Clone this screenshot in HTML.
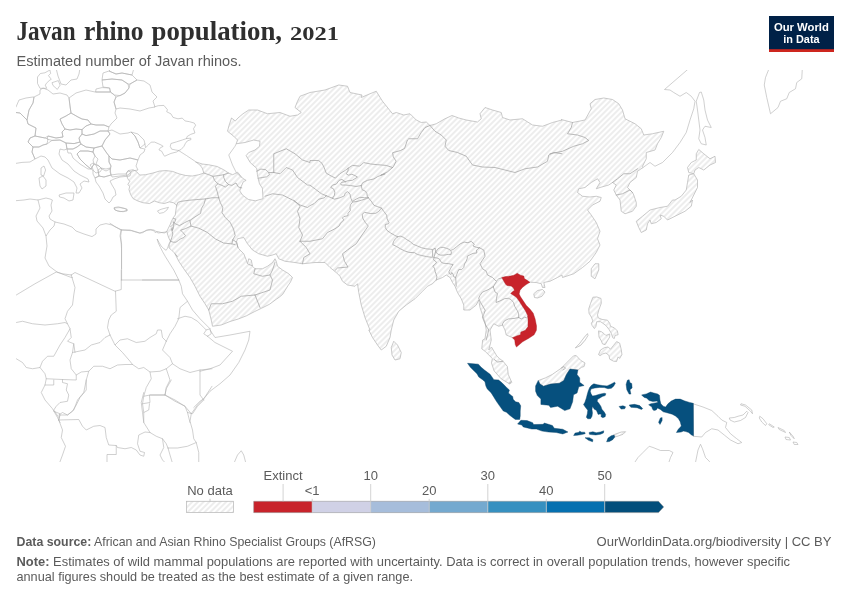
<!DOCTYPE html>
<html lang="en">
<head>
<meta charset="utf-8">
<title>Javan rhino population, 2021</title>
<style>
html,body{margin:0;padding:0;background:#fff;}
body{width:850px;height:600px;overflow:hidden;position:relative;font-family:"Liberation Sans",sans-serif;}
svg{position:absolute;left:0;top:0;display:block;}
.serif{font-family:"Liberation Serif",serif;}
.sans{font-family:"Liberation Sans",sans-serif;}
.o{fill:#fff;stroke:#b0b0b0;stroke-width:.6;stroke-linejoin:round;}
.h{fill:url(#hatch);stroke:#b4b4b4;stroke-width:.7;stroke-linejoin:round;}
.ol{fill:none;stroke:#b0b0b0;stroke-width:.6;stroke-linejoin:round;stroke-linecap:round;}
.l{fill:none;stroke:#a4a4a4;stroke-width:.75;stroke-linejoin:round;stroke-linecap:round;}
.r{fill:#c8232b;stroke:#a81c22;stroke-width:.4;stroke-linejoin:round;}
.b{fill:#06507e;stroke:#044066;stroke-width:.4;stroke-linejoin:round;}
.lg{font-size:13px;fill:#5b5b5b;}
.ft{font-size:13px;fill:#5b5b5b;}
</style>
</head>
<body>
<svg width="850" height="600" viewBox="0 0 850 600">
<defs>
<pattern id="hatch" patternUnits="userSpaceOnUse" width="4" height="4" patternTransform="rotate(-45 2 2)">
<path d="M-1,2 l6,0" stroke="#ccc" stroke-width=".7"/>
</pattern>
<clipPath id="mapclip"><rect x="16" y="70" width="818" height="392"/></clipPath>
</defs>
<rect width="850" height="600" fill="#fff"/>
<g clip-path="url(#mapclip)">
<path class="o" d="M157.44,210.94 L161.06,209.29 L166,207.98 L168.47,207.32 L166.82,210.12 L163.53,212.59 L159.41,213.41Z M114.12,207.65 L118.24,206.82 L124.82,208.47 L127.29,210.12 L123.18,211.76 L117.41,210.94 L114.61,209.62Z M693,403.75 L703,407 L711.75,410.5 L718,416.25 L721.75,420 L726.75,422.5 L725.5,427.5 L730.5,433.75 L736.75,438.75 L741.75,442.5 L738,443.75 L730.5,440 L724.25,435 L718,430 L711.75,428.75 L705.5,432.5 L701.75,437 L693,436.25Z M729.25,418 L734.25,417.5 L738,416.25 L743,415 L746.75,411.25 L748,412.5 L745.5,417.5 L740.5,420.5 L734.25,422 L730,420Z M741,403.75 L745.5,405 L751.75,410 L752.5,413.75 L750.5,411.25 L745,406.25 L740.5,405Z M759.75,416.25 L763,418.75 L766.75,423.75 L765.5,425.5 L761.75,422 L759.25,418Z M769.25,423.75 L774.25,427 L773,427.5 L768.75,424.75Z M778,427.5 L784.25,430.5 L785.5,432.5 L779.25,429.5Z M789.25,432 L793,436.25 L794.25,438.75 L791,435.5Z M785,437 L789.25,437.5 L790.5,440 L786,439.5Z M793,442 L796.75,442.5 L798,444.5 L794.25,444.5Z M699.5,92.5 L701.25,92 L703.75,100 L705,110 L707.5,120 L711.25,127.5 L705,126.25 L702.5,130 L705,137.5 L706.25,145 L701.25,143.75 L698.75,138.75 L700,130 L698.75,120 L697.5,110 L696.25,101.25Z M170.94,143.53 L176.59,141.84 L182.24,140 L186.47,138.59 L190.71,138.16 L190.99,139.58 L187.18,140.99 L185.34,143.53 L183.93,146.35 L181.11,149.46 L178.71,150.59 L175.18,149.88 L171.65,149.18 L170.24,146.35Z M40,88.3 L37.5,83.4 L37.5,77 L40.4,73.5 L44.9,72.8 L49.9,70 L50.6,73.5 L48.5,75.6 L50.6,78.5 L51.3,79.2 L49.2,80.6 L46.3,83.4 L45.3,85.2 L46.7,88.3Z M52,82.7 L58.3,80.6 L60.1,85.2 L57.3,89.4 L53,85.5Z M56,68 L58,76 L61,84 L66,85 L71,80 L77,79 L79,74 L80,68Z M69,98 L76,93 L86,90 L95,92 L102,92 L110.4,92 L114.4,95 L116,97 L114,102 L116,109 L115,113 L117,118 L111,124 L109,127 L104,125 L96,125 L91,124 L88,120 L82,119 L78,117 L71,113 L70,106Z M96,89 L102,87.6 L109.6,88 L110.4,92 L102,92 L95.6,92Z M102,80 L112,79 L122,80 L128,84 L129,88 L125,93 L120,95.6 L114.4,95 L110.4,92 L109.6,88 L103,87Z M102,80 L103,73 L109,71 L116,74 L122,73 L132,75 L137,80 L130,84 L128,84 L122,80 L112,79Z M109,71 L112,68 L134,68 L132,75 L122,73 L116,74Z M129,88 L130,84 L137,80 L144,81 L150,85 L152,92 L157,97 L153,101 L155,107 L149,108 L140,111 L130,109 L120,108 L116,109 L114,102 L116,97 L120,95.6 L125,93Z M60,119 L66,116 L71,113 L78,117 L82,119 L88,120 L91,124 L86,126 L82,129.6 L76,129 L70,130 L65,129 L62,124Z M82,129.6 L86,126 L91,124 L96,125 L104,125 L109,127 L108,131 L100,131 L94,134 L86,135.6 L82,134Z M48,136 L56,138 L63,137 L62,132 L65,129 L70,130 L76,129 L82,129.6 L82,134 L79,138 L80,142 L74,143.6 L66,143 L60,140 L52,140.4 L47,139Z M79,138 L82,134 L86,135.6 L94,134 L100,131 L108,131 L110,134 L105,140 L102,146 L94,148 L86,147 L81,144 L80,142Z M110,134 L108,131 L112,130 L120,134 L128,133 L131,132 L135,136 L138,142 L140,148 L145,149 L144,152 L140,155 L138,160 L130,158 L120,160 L112,159 L109,156 L106,152 L102,146 L105,140Z M131,132 L138,134 L144,140 L145,144 L140,148 L138,142 L135,136Z M109,156 L112,159 L120,160 L130,158 L138,160 L136,166 L138,170 L132,171 L128,175 L120,176 L112,177 L110,172 L111,166 L109,162Z M94,148 L102,146 L106,152 L109,156 L109,162 L111,166 L110,169 L106,171 L102,169 L99,166 L96,164 L98,159 L95,156 L93,152Z M30,138 L35,136 L40,137 L45,138 L48,139 L47,144 L43,145 L39,147 L33,147 L30,144 L28,142Z M40,90 L43,88 L48,90 L53,94 L60,93 L67,95 L69,98 L70,106 L71,113 L66,116 L60,119 L62,124 L65,129 L62,132 L63,137 L56,138 L48,136 L45,138 L40,137 L35,136 L36,128 L28,124 L27,120 L29,110 L33,103 L34,97 L40,94Z M27,120 L20,113 L12,112 L16,107 L19,100 L26,98 L33,97 L34,97 L33,103 L29,110Z M12,112 L20,113 L27,120 L28,124 L36,128 L35,136 L30,138 L28,142 L30,144 L33,147 L32,152 L35,159 L30,162 L22,162.4 L12,164Z M66,143 L74,143.6 L80,142 L81,144 L77,147 L73,149 L67,149Z M67,149 L73,149 L77,147 L81,144 L86,147 L94,148 L93,152 L88,151 L80,151 L77,154 L80,159 L86,165 L91,169 L88,169 L80,164 L73,158 L71,153 L68,153Z M77,154 L80,151 L88,151 L93,152 L95,156 L93,160 L94,164 L91,169 L86,165 L80,159Z M91,169 L94,164 L99,166 L102,169 L100,172 L96,173 L94,171Z M41,168 L44,166 L45.6,170 L43.6,176 L41,175Z M39,178 L43,176 L46,180 L46,186 L42,189 L40,186Z M33,147 L39,147 L43,145 L47,144 L52,140.4 L60,140 L66,143 L67,149 L64,150 L60,149 L59,154 L62,160 L68,164 L74,171 L80,175 L88,179 L89,182 L84,181 L80,184 L82,188 L79,193 L76,193 L77,188 L74,182 L68,178 L60,174 L52,168 L48,160 L45,157 L41,156 L35,159 L32,152Z M59,195 L66,193 L74,193 L73,200 L69,201 L64,198 L59.6,197Z M90,165 L93,163 L96,165 L98,170 L99,176 L95,178 L93,174 L93,169Z M99,176 L104,177 L111,175 L118,174 L126,174 L128,171 L131,172 L130,176 L120,177 L114,179 L110,181 L112,185 L115,190 L116,195 L113,197 L111,201 L109,203 L105,199 L103,193 L99,186 L96,182 L95,178Z M114,208 L120,207.6 L127,209 L127,211 L120,211.6 L115,210Z M98,170 L101,168 L106,169 L110,168 L111,175 L104,177 L99,176Z"/>
<path class="ol" d="M633,465 L638,457.5 L643,452.5 L649.25,446.25 L653,447.5 L660.5,450.5 L669.25,450.5 L673,452.5 L670.5,457.5 L668,465 M695,465 L698,450 L700.5,444.25 L702.5,448.75 L705.5,457.5 L709.25,461.25 L711.75,465 M770.5,65 L765.5,77.5 L764.25,85 L766.75,97.5 L770.5,113.75 L778,107.5 L780.5,101.25 L786.75,98.75 L789.25,92.5 L795.5,88.75 L796.75,82.5 L801.75,78.75 L802.5,65 M643,167.5 L650,162.5 L655,166.25 L662.5,162.5 L672.5,152.5 L680,142.5 L686.25,132.5 L690,120 L693.75,108.75 L695,101.25 L691.25,96.25 L686.25,92.5 L680,96.25 L673.75,92.5 L670,90 L664.5,89.5 L690,67.5 M241.25,177.5 L236.25,172.5 L232.5,165 L228.75,155 L235,146.25 L236.25,143.75 M210,330 L215,337.5 L230,335 L250,331.25 L248.75,340 L245,350 L238.75,362.5 L230,375 L220,383.75 L210,391.25 L203.75,398.75 L200,401.25 L193.75,407.5 M207.5,336.25 L215,342.5 L232.5,351.25 L220,365 L210,368.75 L200,371.25 M233.75,463.75 L237.5,455 L241.25,450.75 L243.75,455 L246,463.75 M121.53,229.88 L120.71,235.65 L121.53,248.82 L121.53,268.59 M142.5,280 L178.75,280 M177.5,318.75 L185,316.25 L191.25,317.5 L197.5,321.25 L203.75,327.5 L206.25,330 L210,328.75 M206.25,330 L203.75,333.75 L207.5,336.25 M170.49,241.26 L169.29,243.24 L168.24,246.06 L167.53,248.18 L166.12,250.29 L164,248.88 L161.18,246.06 L159.06,242.53 L157.29,239.35 M157.29,239.35 L158.35,243.24 L160.47,247.47 L162.59,251.71 L165.41,256.65 L167.5,260 L173.75,270 L178.75,280 L181.25,286.25 L182.5,293.75 L187.5,301.25 L192.5,310 L200,318.75 L206.25,325 L210,328.75 L211.25,333.75 L207.5,336.25 M110,223.29 L114.94,226.59 L121.53,229.88 L131.41,230.71 L139.65,233.18 L142.82,232.65 L146.35,230.18 L150.59,229.47 L153.41,230.53 L155.18,232.65 L156.94,231.38 L160.47,232.29 L164.35,233 L166.82,231.38 M154.71,106.82 L158.24,105.69 L163.88,105.41 L167.41,109.65 L166.71,111.76 L170.94,113.88 L173.06,117.41 L178,118.82 L182.24,118.12 L185.06,120.94 L189.29,121.65 L194.24,123.06 L195.65,125.18 L193.53,128.71 L194.94,132.94 L190.71,134.35 L187.18,136.47 L186.47,138.59 M178.71,150.59 L176.59,152 L170.94,153.41 L164.59,156.24 L163.18,154.12 L161.76,151.29 L158.94,149.88 L160.35,147.76 L163.18,146.35 L161.06,144.94 L154.71,142.12 L151.18,142.12 L148.35,144.94 L145.53,147.76 L144.96,143.95 M178.71,150.59 L186.47,155.53 L194.94,161.18 L195.65,161.88 M12,201 L24,200 L30,199 L38,200 L46,198 L50,199 L52.4,200 L51,205 L52,211 L49,216 L50,219 L55,222 L64,224 L72,227 L76,231 L84,234 L92,236.6 L96,234 L96,229 L100,225 L106,223.6 L112,225 L121,230 L130,230 L140,233 L148,230 L154,230 L158,233 L166,232 M38,200 L40,208 L36,216 L37,221 L43,228 L46,236 L50,230 L54,226 L55,222 M46,236 L47,246 L45,258 L49,266 L57,272 L70,277 L72.4,277.6 M121,230 L120,236 L121.6,244 L121.6,280 M10,298 L16.25,295 L35,283.75 L56.25,272 L62.5,273.75 L71.25,275 M71.25,275 L75,272.5 L115,291.25 L121.25,289.5 L121.25,270 M71.25,275 L75,287.5 L73.75,295 L72.5,305 L67.5,311.25 L65,318.75 L67.5,323.75 L70,328.75 L71.25,337.5 L67.5,341.25 L73.75,343.75 L75,352.5 M10,323 L16.25,322.5 L22.5,321.25 L32.5,323.75 L45,325 L57.5,323.75 L65,322.5 L67.5,323.75 M70,328.75 L65,337.5 L60,345 L53.75,356.25 L47.5,356.25 L42.5,361.25 L40,367.5 M10,357.5 L16.25,358.75 L22.5,362.5 L26.25,367.5 L32.5,368.75 L40,367.5 L45,373.75 L46.25,378.75 L45,385 L41.25,392.5 L45,400 L52.5,408.75 L57.5,417.5 L60,422.5 M73.75,343.75 L72.5,352.5 L70,360 L71.25,368.75 L76.25,375 L76.25,380 L62.5,379.5 L46.25,378.75 M72.5,352.5 L85,350 L91.25,345 L100,342.5 L105,337.5 L110,335 M110,335 L107.5,327.5 L108.75,320 L111.25,315 L116.25,311.25 L115.5,291.25 M121.25,280 L178.75,280 M187.5,301.25 L180,307.5 L178.75,318.75 L175,326.25 L170,333.75 L166.25,341.25 M110,335 L115,345 L120,340 L127.5,338.75 L136.25,342.5 L145,341.25 L150,337.5 L156.25,333.75 L157.5,330 L161.25,330 L162.5,337.5 L166.25,341.25 M166.25,341.25 L162.5,350 L170,357.5 L172.5,363.75 L180,368.75 L190,372.5 L200,370 L212,368.75 M115,345 L122.5,352.5 L130,361.25 L132.5,364.5 M76.25,375 L81.25,372 L88.75,371.25 L93.75,366.25 L102.5,366.25 L110,368.75 L117.5,365 L125,364.5 L132.5,364.5 L138.75,368.75 L143.75,367.5 L150,372 L160,371.25 L166.25,368.75 L172.5,363.75 M150,372 L151.25,378.75 L146.25,387.5 L143.75,396.25 L150,395 L165,395 L166.25,387.5 L170,380 L166.25,368.75 M200,370 L200,395 L203.75,400 M165,395 L175,400 L185,406.25 L187.5,412.5 L192.5,413.75 L197.5,406.25 L203.75,400 M143.75,396.25 L142.5,403.75 L143.75,412.5 L143.75,422.5 M149.5,395.5 L150,402.5 L142.5,403.75 M149.5,403.75 L148.75,410 L143.75,412.5 M187.5,412.5 L190,422.5 M88.75,371.25 L86.25,380 L83.75,392.5 L77.5,400 L73.75,410 L67.5,415 L60,415 L58.75,420 M53.75,380 L53.75,385 L45,385 M62.5,379.5 L62.5,382.5 L67.5,383.75 L66.25,390 L68.75,395 L67.5,401.25 L60,402.5 L56.25,406.25 L53.75,410 L58.75,417.5 M58.75,420 L62.5,430 L61.25,437.5 L65.5,446.25 L62.5,455 L58.75,465 M58.75,420 L78.75,419.5 L82.5,426.25 L86.25,430 L93.75,426.25 L100,425.5 L105,427.5 L106.25,437.5 L108.75,445 L116.25,445.5 L117.5,447.5 L125,448.75 L131.25,447.5 L136.25,450 L140,455 L143.75,456.25 L144.5,452.5 L140,451.25 L137.5,443.75 L138.75,435 L145,432 L150,432.5 L156.25,436.25 L162.5,438.75 L166.25,443.75 L168,448 M116.25,445.5 L116.25,454.5 L107,454.5 L107,465 M53.75,411.25 L60,413.75 L58.75,420 M58.75,415 L62.5,412.5 L67.5,415 L72.5,411.25 L76.25,405 L80,397.5 L86.25,390 L86.25,380 M143.75,392.5 L141.25,402.5 L142.5,412.5 L143.75,422.5 L150,432.5 M150,395 L165,395 L175,401.25 L185,406.25 L191.25,413.75 M212,386.25 L203.75,398.75 L197.5,405 L191.25,413.75 L190,421.25 L192.5,430 L193.75,438.75 L196.25,442.5 L198.75,452.5 L198.75,465 M196.25,442.5 L187.5,446.25 L177.5,448 L168,448 M162.5,438.75 L163.75,447.5 L160,455 L162.5,460 L167.5,465 M168,448 L170,455 L173,465 M171.25,380 L166.25,388.75 L165,395"/>
<path class="h" d="M126.47,174.71 L126.47,173.06 L128.12,170.59 L133.06,169.76 L136.35,171.41 L139.65,175.04 L145.41,174.71 L152.82,173.06 L159.41,171.08 L166,170.59 L172.59,171.41 L179.18,173.88 L185.76,175.53 L192.35,176.02 L198.94,174.71 L203.88,173.06 L202.24,168.12 L199.76,164.82 L195.65,161.86 L202.24,164 L208.82,164.82 L217.06,166.47 L223.65,169.76 L228.59,173.06 L232.71,174.71 L237.65,172.24 L242.59,178.24 L246.12,180.35 L243.29,181.76 L241.18,186.71 L239.76,190.94 L242.59,195.18 L248.24,199.41 L255.29,200.82 L263.06,198.71 L262.35,188.12 L259.53,183.88 L258.12,178.24 L257.41,174.71 L256.71,168.35 L250.35,162.71 L246.12,155.65 L248.75,152.5 L255,150 L259.5,146.25 L260,141.25 L253.75,140 L245,142.5 L236.25,143.75 L237.5,140 L233.75,136.25 L227.5,131.25 L229,125.5 L231.5,118 L235.25,121 L238,118 L243,113.75 L248.75,110 L257.5,110 L267.5,113.75 L280,112.5 L290,116.25 L297.5,115 L301.25,112.5 L295,107.5 L297.5,101.25 L300,96.25 L310,92.5 L325,90 L338.75,85 L347.5,86.25 L350,92.5 L362,95 L361.25,97.5 L370,93.75 L376.25,91.25 L382.5,101.25 L392.5,113.75 L396.25,112.5 L403.75,115 L410,113.75 L416.25,120 L421.25,122.5 L426.25,122 L430,125.5 L436.25,123.75 L445,118.75 L452,115.5 L458.75,118 L466.25,120 L477.5,122 L481.25,118.75 L480,113.75 L485,107.5 L492.5,110 L501.25,112.5 L502.5,117.5 L510,120 L522.5,118.75 L532.5,125 L542.5,126.25 L552.5,122.5 L562,120 L561.25,119.5 L572.5,122.5 L585,120 L591.25,108.75 L590,103.75 L595,99.5 L603.75,98 L612.5,99.5 L618.75,103.75 L622.5,110 L625,118.75 L635,123.75 L641.25,128.75 L643.75,135 L652.5,133.75 L663.75,131.25 L661.25,137.5 L657.5,143.75 L655,150 L646.25,152.5 L646.25,158.75 L642.5,166.25 L643,167.5 L637.5,171.25 L636.25,177.5 L630,182.5 L627.5,187.5 L632.5,192.5 L633.75,195 L636.25,202.5 L636.25,206.25 L632.5,211.25 L625,213.75 L621.25,211.25 L620,200 L616.25,195 L613.75,190 L616.25,185 L612.5,182.5 L608.75,185 L600,187.5 L596.25,188.75 L600,182.5 L597.5,178.75 L591.25,182.5 L585,187.5 L578.75,188.75 L577.5,192.5 L582.5,196.25 L590,197 L596.25,196.25 L601.25,197.5 L600,201.25 L592.5,205 L587.5,210 L587.5,210 L591.25,215 L596.25,222.5 L600,231.25 L597.5,238.75 L600,245 L596.25,252.5 L590,261.25 L582.5,267.5 L573.75,273.75 L562.5,277.5 L562,275 L557.5,277.5 L550,281.25 L543.75,282.5 L545,287.5 L542.5,287.5 L541.25,283.75 L536.25,282.5 L530.5,282.25 L525,282.5 L518,290.5 L516.75,293 L519.5,298 L524.5,305 L528.75,311.75 L531.25,317.5 L532.5,324.5 L531.25,330 L527.5,334.25 L523.75,337.5 L519.5,339.5 L515.5,339 L513,337.75 L506.25,335 L505,330 L502.5,325 L498.75,326.25 L493.75,323.75 L490,330 L491.25,340 L488.75,350 L491.47,347.06 L496.76,355.88 L499.41,358.53 L502.94,361.18 L507.35,366.47 L508.24,374.41 L511.76,382.35 L510,384.12 L501.18,378.82 L494.12,370.88 L491.47,362.94 L492.35,358.53 L485.29,351.47 L481.76,348.82 L482.65,340 L485,338.75 L486.25,330 L485,322.5 L482.5,315 L480,307.5 L478.75,300 L476.25,305 L470,310 L463.75,310 L463.75,305 L461.25,298.75 L457.5,292.5 L455,286.25 L452.5,282.5 L450,277.5 L446.25,275 L442.5,277.5 L436.25,280 L432.5,283.75 L427.5,286.25 L422.5,291.25 L415,298.75 L406.25,305 L398.75,311.25 L393.75,320 L391.25,330 L390,337.5 L386.25,346.25 L381.25,350 L377.5,345 L372.5,337.5 L368.75,330 L370,330 L365,317.5 L361.25,305 L358.75,292.5 L357.5,283.75 L355,286.25 L347.5,285 L342.5,281.25 L340,276.25 L336.25,272.5 L330,267.5 L325,262.5 L315,262.5 L302.5,263.75 L295,262.5 L285,261.25 L278.75,258.75 L276.25,253.75 L272.5,255 L267.5,256.25 L258.75,253.75 L252.5,250 L247.5,243.75 L243.75,237.5 L237.5,238.75 L236.25,242.5 L238.75,248.75 L243.75,253.75 L246.25,260 L247.5,263.75 L248.75,258.75 L251.25,260 L252.5,266.25 L255,268.75 L262.5,268.75 L267.5,266.25 L272.5,262.5 L275,258.75 L276.25,261.25 L277.5,266.25 L282.5,270 L288.75,273.75 L292.5,277.5 L290.5,282 L287.75,286 L285,290.5 L282.75,294.25 L279.5,297 L276.25,299.25 L269.5,304.25 L261.5,308.25 L254.75,311.5 L246.5,315.75 L238.25,319 L230,321.5 L221.25,325 L212.5,326.25 L211.25,320 L208.75,310 L205,303.75 L200,296.25 L195,286.25 L190,277.5 L183.75,268.75 L178.75,261.25 L175,253.75 L177.41,256.65 L173.88,252.41 L171.06,249.59 L168.94,247.82 L169.29,244.65 L170.49,241.26 L169.29,239 L167.88,235.47 L166.82,231.38 L168.24,228.41 L170,224.88 L171.41,221.35 L173.18,217.82 L175.29,215 L175.88,210.12 L176.71,205.18 L173.41,202.71 L169.29,201.88 L164.35,203.53 L159.41,202.71 L154.47,201.06 L149.53,203.53 L142.94,202.71 L138,201.06 L133.06,198.59 L130.59,194.47 L128.94,189.53 L129.76,186.24 L127.79,184.59 L129.76,181.29 L127.79,178.82Z M393.75,341.25 L397.5,345 L401.25,352.5 L400,358.75 L395,360 L392,355 L391.25,347.5Z M591.25,268.75 L595,263.75 L598.75,263.75 L598.75,270 L595,278.75 L591.25,276.25Z M533.75,293.75 L537.5,290.5 L542.5,289.5 L545,292 L542,296.25 L537.5,298 L534.5,297.5Z M698.75,149.5 L703.75,153.75 L710,158.75 L715,156.25 L715.5,162.5 L710,165 L703.75,170 L698.75,167.5 L695,170 L693.75,173.75 L688.75,172.5 L687.5,167.5 L691.25,162.5 L696.25,160 L696.25,153.75Z M688.75,175 L693.75,173.75 L697.5,180 L697.5,187.5 L693.75,195 L690,202.5 L692.5,200 L691.25,206.25 L685,211.25 L675,216.25 L667.5,220 L663.75,216.25 L660,215 L661.25,218.75 L656.25,222.5 L651.25,223.75 L650,220 L647.5,223.75 L646.25,230 L641.25,232.5 L638.75,227.5 L636.25,221.25 L642.5,216.25 L650,210 L660,207.5 L667.5,206.25 L672.5,200 L675,200 L681.25,196.25 L686.25,190 L687.5,182.5Z M592.88,297.24 L596.71,296.93 L600.99,298.46 L601.29,303.35 L599,309.47 L597.47,314.82 L598.24,317.88 L602.06,319.41 L607.41,320.18 L609.71,323.24 L610.47,326.29 L614.29,327.82 L617.35,330.88 L618.12,334.71 L615.06,335.47 L614.29,338.53 L612.76,337.76 L611.24,333.18 L608.94,329.35 L605.88,325.53 L602.82,323.24 L600.53,321.71 L596.71,321.71 L595.94,326.29 L594.41,328.59 L592.12,325.53 L591.35,323.24 L592.88,320.94 L591.35,317.12 L589.06,313.29 L588.75,308.71 L590.59,303.35Z M575.29,348.01 L579.88,343.12 L584.47,337 L587.53,333.64 L587.99,335.47 L585.24,340.06 L580.65,345.41Z M598.54,330.88 L601.29,331.65 L604.35,333.94 L605.88,335.47 L609.71,333.94 L609.71,337 L607.41,340.82 L605.12,344.65 L602.52,343.88 L601.29,340.82 L599,337Z M598.54,354.59 L600.53,350 L604.35,347.71 L608.18,346.94 L610.47,349.24 L613.53,345.41 L616.59,341.59 L619.65,343.12 L621.18,349.24 L621.94,354.59 L619.65,358.41 L618.12,356.88 L616.59,361.47 L613.53,361.16 L609.71,359.18 L608.94,355.35 L605.88,353.06 L602.82,353.82 L600.07,355.66Z M538.24,380.59 L540,384.12 L543.53,386.24 L550.59,384.12 L559.41,383.24 L563.82,380.59 L566.47,374.41 L570,369.12 L577.94,370 L581.47,367.35 L584.12,366.47 L585,362.94 L580.59,360.29 L576.18,355.53 L573.53,355.88 L566.47,362.94 L561.18,368.24 L552.35,374.41 L545.29,377.94Z M613.76,434.71 L621.18,432.06 L625.59,431.71 L622.94,434.35 L616.76,436.47 L613.24,437.35Z"/>
<path class="l" d="M203.88,173.06 L208.82,174.71 L212.94,176.35 L214.59,180.47 L217.88,183.76 L215.41,186.24 L217.06,191.18 L218.71,197.76 M218.71,197.76 L212.12,197.76 L205.53,198.92 L198.94,199.41 L189.06,200.24 L180.82,201.39 L177.86,202.38 L176.71,205.18 M212.94,176.35 L218.71,175.53 L223.65,174.71 L228.59,173.06 M223.65,174.71 L223.65,177.18 L225.29,181.29 L228.59,184.59 L225.29,187.06 L222,185.41 L217.88,183.76 M228.59,184.59 L231.88,185.41 L236,182.94 L238.47,187.06 L241.76,187.88 M218.71,197.76 L220.35,202.71 L222.82,207.65 L222,212.59 L225.29,217.53 L230.24,222.47 L233.53,229.06 L235.18,235.65 L232.71,239.76 L236.82,242.24 L237.65,247.18 M205.53,198.92 L203.88,204.35 L201.41,208.47 L200.59,213.41 L194,217.53 L189.88,220.49 M173.41,218.35 L175.88,219.18 L174.24,223.29 L171.76,225.76 L170.61,226.59 M191.04,226.09 L198.94,228.24 L207.18,232.35 L215.41,238.94 L223.65,243.06 L231.88,243.88 L235.18,244.71 M232.71,239.76 L231.88,243.88 M208.75,310 L211.25,303.75 L222.5,303.75 L232.5,301.25 L241.25,296.25 L255,295 M255,295 L260,307.5 M255,295 L270,290 L272.5,280 L270,275 M255,268.75 L253.75,273.75 L262.5,276.25 L270,275 L272.5,270 L275,262.5 M248.75,264.5 L252,265.5 M302.5,263.75 L303.75,257.5 L310,253.75 L306.25,247.5 L300,241.25 M300,241.25 L302.5,235 L298.75,227.5 L300,218.75 L297.5,211.25 L300,206.25 L293.75,200 M430,125.5 L435,131.25 L441.25,135 L446.25,140 L445,146.25 L448.75,150.5 L457.5,152.5 L466.25,156.25 L472.5,165 L482.5,167 L495,167.5 L505,170 L515,172.5 L525,168.75 L537.5,167 L547.5,161.25 L548.75,155 L553.75,152.5 L562,153.75 M572.5,122.5 L571.25,127.5 L567.5,133.75 L577.5,135 L585,137.5 L588.75,140.5 L582.5,143.75 L573.75,146.25 L562.5,151.25 L550,153.75 M637.5,168.75 L630,173.75 L623.75,173.75 L617.5,178.75 L612.5,182.5 M616.25,195 L622.5,193.75 L630,190 L632.5,192.5 M479.29,247.71 L483.75,250 L485,256.25 L480,263.75 L482.5,268.75 L486.25,271.25 L487.5,275 L492.5,277.5 L496.25,281.25 M496.25,281.25 L498.75,278.75 L502,278 M494.12,359.41 L497.65,362.06 L502.94,361.18 M509.12,383.24 L510.88,382 M561.18,368.24 L563.82,366.47 L565.59,368.24 L562.94,370 M170.49,241.26 L171.76,237.59 L172.82,234.06 L172.12,231.24 L173.18,227.71 L173.88,224.18 L173.53,222.06 M189.88,220.49 L191.04,226.09 L185.18,228.76 L180.59,230.18 L183.06,232.65 L185.53,235.61 L183.76,237.59 L180.94,238.65 L178.47,240.41 L176,242.18 L173.18,242.18 L170.49,241.26 M173.53,222.06 L175.29,223.82 L179.53,225.59 L184.47,222.76 L189.41,220.29 M172.12,227.71 L171.06,230.18 L172.47,230.18 L173.18,227.71 M256.71,171.18 L260.94,169.06 L265.88,169.76 L268.71,172.59 L269.41,174.71 L266.59,176.82 L262.35,177.53 L258.12,178.24 M268.71,172.59 L273.79,172.45 M433.06,249.47 L435.18,248.06 L435.53,251.94 L434.12,256.88 L432.71,257.59 M435.88,251.94 L437.65,249.12 L440.47,247.35 L443.29,247.35 L446.82,248.41 L449.65,249.47 L451.41,251.94 L451.06,254.41 L448.24,254.41 L444,255.12 L440.47,255.12 L437.65,254.06 L435.88,251.94 M451.41,250.18 L453.18,249.47 L456.71,246.65 L460.24,243.82 L464.12,242.06 L468,242.76 L471.18,241.35 L474.35,244.18 L472.94,245.94 L476.47,247.35 L479.29,247.71 M479.29,247.71 L477.88,249.12 L476.47,250.18 L476.82,253 L472.94,253.35 L469.41,255.12 L467.29,256.18 L467.29,258.29 L466.24,261.12 L464.47,263.94 L463.76,267.47 L461.65,269.59 L458.82,269.59 L457.76,271.71 L456.71,274.53 L455.65,277.35 M434.12,257.59 L436.94,257.94 L439.41,259 L441.18,262.18 L443.29,263.24 L448.24,263.59 L453.18,264.65 L451.76,266.41 L450.35,268.88 L448.94,271.71 L449.29,273.47 L451.06,274.53 L451.76,272.41 L453.18,274.53 L453.88,277 L455.65,277.35 L456.25,286.25 M434.12,257.59 L433.41,259.71 L436.59,262.18 L435.18,264.29 L432.71,266.06 L434.47,268.18 L435.18,271.71 L436.24,274.53 L436.94,277 L436.25,280 M397.65,236.82 L400.12,236.12 L403.29,237.18 L406.82,239.65 L410.35,241.76 L413.18,244.24 L417.41,246 L421.65,247.76 L425.88,248.82 L430.12,249.18 L432.59,249.53 L432.59,256.59 L431.53,257.29 L426.59,256.59 L421.65,255.53 L417.41,254.47 L414.59,252.71 L408.94,252.35 L404.71,250.94 L400.47,248.82 L396.24,246.35 L392.71,244.59 L393.41,241.76 L395.18,238.94 L397.65,236.82 M381.47,208.12 L383.82,211.41 L386.65,215.18 L387.12,218.94 L389,222.71 L388.47,223.76 L385.29,224.47 L385.29,227.65 L387.06,230.47 L390.59,232.94 L394.82,235.41 L397.65,236.82 M496.06,282.24 L493.24,286.75 M493.24,286.75 L488.06,289.76 L482.41,292.12 L480.06,295.41 L478.65,298.24 L480.53,302.47 L483.35,307.18 L485.24,310.47 L483.82,314.24 L482.41,317.06 L483.82,320.82 L486.18,326 L488.75,330 L486.25,340 M493.24,286.75 L495.12,292.12 L497.47,293.53 L496.53,298.24 L496.06,302.47 L499.82,301.06 L504.53,298.71 L508.29,298.24 L511.12,299.65 L513.47,302.47 L514.88,306.71 L517.24,310.47 L518.65,313.76 L518.65,317.53 M518.65,317.53 L521.47,318.94 L524.76,317.06 L526.18,318 L527.87,316.59 M518.65,317.53 L513.94,318.47 L508.29,318.94 L504.53,320.82 L502.65,323.65 L502.46,324.96 M273.75,172.5 L273.75,153.75 L286.25,148.75 L295,153.75 L302.5,160 L310,162.5 L310,160.47 L318.47,160.47 L322,163.29 L324.12,167.53 L326.24,173.18 L331.18,176 L335.41,178.12 L339.65,173.88 L345.29,170.35 L348.12,168.24 M348.12,168.24 L352.35,165.41 L359.41,166.12 L361.53,164.71 L363.65,162.59 L370.71,164 L377.76,164.71 L386.24,165.41 L392.59,167.53 M430,125.5 L425,127.5 L421.25,132.5 L417.5,138.75 L408.75,138.75 L407.41,140 L404.59,148.47 L400.35,150.59 L392.59,152.71 L393.29,156.94 L396.12,161.18 L393.29,166.82 L392.59,167.53 M392.59,167.53 L387.65,171.76 L380.59,175.29 L385.24,173.76 L377.71,176.59 L373.94,178.94 L367.35,180.35 L362.65,182.71 L361.24,185.53 M361.24,185.53 L356.06,186.47 L350.41,185.53 L345.71,185.06 L341.47,185.06 L340.53,183.65 L341.94,182.24 L345.24,181.76 M345.24,181.76 L347.59,180.82 L352.29,180.35 L356.06,178 L357.47,177.06 L355.12,175.65 L351.82,174.24 L348.53,175.18 L346.18,173.76 L348.06,170.94 L348.12,168.24 M345.24,181.76 L341.94,179.41 L339.12,180.35 L336.29,184.12 L332.53,185.06 L330.65,187.41 L333.47,188.82 L334.88,192.12 L334.41,195.41 L332.53,198.24 M361.24,185.53 L362.18,189.76 L365.47,191.18 L366.88,193.53 L367.35,196.35 L368.29,197.76 M368.29,197.76 L364.53,197.76 L359.82,197.29 L356.06,199.18 L352.29,201.53 L350.88,198.24 L349.94,194 L347.59,191.65 L345.24,193.06 L344.29,195.88 L340.06,197.76 L334.41,199.18 L332.53,198.24 M332.53,198.24 L326.24,195.76 M273.75,172.5 L280,173.75 L286.25,167.5 L292.5,170 L297.5,177.5 L307.5,185 L310,185.18 L315.65,189.41 L321.29,193.65 L326.24,195.76 M265,196.25 L272.5,193.75 L282.5,195 L292.5,200 L300,205 L307.5,207.5 L310,205.65 L314.24,203.53 L318.47,199.29 L324.12,197.88 L326.24,195.76 M300,241.25 L310,241.25 L322.5,238.75 L327.5,232.5 L335,228.75 L339.12,226 L340.53,223.18 L343.82,219.88 L342.41,218 L343.82,216.59 L348.06,215.65 L348.06,213.29 L350.41,210.47 L349.94,207.65 L350.41,204.82 L352.76,202 L357,201.53 L361.71,200.12 L366.41,198.71 L368.29,197.76 M368.29,197.76 L371.12,201.06 L373.94,205.29 L377.71,206.71 L381.47,208.12 M381.47,208.12 L378.65,211.41 L375.82,213.29 L370.18,213.48 L364.53,212.35 L362.18,214.24 L362.65,218 L365.47,222.71 L368.29,226 L362,235 L356.25,243.75 L347.5,250 L342.5,253.75 L344.5,261.25 L348,267 L337.5,268 L335,270.5"/>
<path class="r" d="M501.71,277.53 L505.47,276.59 L510.18,276.12 L513.94,275.18 L517.24,273.29 L520.53,275.18 L523.82,276.12 L524.29,278.47 L527.12,280.35 L529.94,282.24 L526.18,284.59 L522.41,287.41 L520.06,290.24 L519.12,294 L520.53,296.82 L523.35,301.06 L526.18,305.29 L529.94,309.06 L533.24,313.29 L535.12,318.94 L536.53,326 L536.41,330.29 L534.12,334.71 L528.82,338.24 L522.65,341.76 L516.47,347.06 L515.24,344.41 L514.71,340 L512.41,337.71 L516.47,335.94 L520.35,334.71 L520.88,332.06 L525.29,330.29 L527.94,326.76 L528.06,319.88 L527.59,315.18 L525.24,310.47 L522.41,306.24 L519.12,301.06 L516.29,297.29 L513,294.94 L510.65,293.53 L512.06,292.12 L514.41,290.24 L513.47,287.88 L511.12,286 L506.88,285.53 L505.47,284.12 L503.59,280.82Z"/>
<path class="b" d="M467.53,363.28 L478.35,364.13 L481.18,367.24 L484.47,370.06 L490.12,374.29 L493.88,379.66 L498.59,379.94 L501.41,382.29 L504.24,385.12 L507.06,387.94 L509.41,390.01 L508.47,393.12 L511.29,395.47 L512.71,396.41 L513.18,399.24 L515.53,401.78 L518.82,402.53 L520.71,405.82 L520.24,411 L520.24,415.88 L519.71,419.41 L515.29,419.41 L510,415.53 L506.47,412.35 L503.29,411 L499.53,405.82 L496.24,401.12 L493.41,396.41 L491.06,392.65 L487.29,389.07 L485.88,386.06 L484.94,381.82 L482.59,379.66 L478.82,377.12 L476.94,373.64 L474.12,371 L470.35,367.24Z M517.59,424.06 L520.88,420.29 L527,420.58 L532.65,422.65 L533.59,424.53 L543,424.34 L544.41,423.12 L552.41,425.47 L554.29,428.29 L562.76,429.24 L567.94,432.06 L562.76,433.94 L556.18,432.53 L548.65,432.06 L542.06,431.12 L536.41,429.05 L531.71,429.05 L523.24,426.88 L521.82,425Z M538.24,380.59 L535.59,385.88 L535.59,391.18 L537.35,395.59 L540.88,399.12 L540.88,404.41 L548.82,405.29 L550.59,407.59 L557.65,406.18 L564.71,410.59 L570,408.82 L572.65,401.76 L573.53,394.71 L577.06,392.94 L578.82,386.76 L584.12,385.53 L579.71,382.35 L579.71,377.94 L577.06,374.41 L577.94,370 L570,369.12 L566.47,374.41 L563.82,380.59 L559.41,383.24 L550.59,384.12 L543.53,386.24 L540,384.12Z M589.65,387.59 L591.53,385.24 L593.88,383.82 L597.65,384.76 L602.35,385.52 L607.06,385.89 L610.82,384.29 L614.59,382.13 L615.34,383.35 L613.65,386.18 L611.29,388.34 L608,388.72 L604.24,387.59 L599.53,387.4 L594.82,388.06 L591.06,389 L590.31,391.35 L591.06,393.71 L592.47,396.06 L595.29,395.59 L599.53,394.18 L604.24,393.24 L605.93,393.71 L605.18,395.59 L602.35,396.53 L600,397.94 L597.65,399.35 L597.18,401.24 L599.06,403.59 L600.94,406.41 L601.88,409.24 L604.24,412.06 L605.65,414.41 L605.18,416.76 L602.82,417.71 L600.94,416.58 L601.41,414.41 L600,413.94 L598.12,414.41 L597.18,412.06 L596.24,410.18 L594.35,409.24 L592.47,406.41 L592,409.24 L592.47,413 L592,416.29 L590.59,418.65 L587.76,418.84 L586.35,417.24 L587.29,413.94 L587.76,410.18 L585.41,407.35 L583.53,404.53 L584.94,402.18 L586.35,397.94 L587.29,394.18 L588.24,390.88Z M627.35,380.35 L629.12,379.65 L630,382.65 L631.76,383.53 L632.12,387.94 L630,389.71 L630.88,394.12 L629.12,394.12 L626.82,389.71 L626.12,384.41Z M619.06,406.47 L622.94,405.76 L625.59,406.82 L624.71,408.76 L621.18,409.12Z M629.12,405.06 L634.41,404.35 L639.71,405.59 L642.71,408.59 L641.47,409.47 L637.06,407.71 L630.88,407.35Z M641.59,394.88 L646.29,393.94 L650.53,392.06 L653.82,393 L657.59,393.94 L659.47,395.35 L659.94,400.06 L660.88,403.82 L663.24,406.18 L665.59,407.12 L667.94,403.82 L671.24,401 L675.47,399.12 L680.18,399.12 L684.88,401 L689.59,402.41 L693.35,403.35 L693.54,435.82 L691.47,434.88 L688.65,432.53 L685.82,431.59 L683.47,431.12 L681.12,432.06 L676.41,432.53 L678.29,429.24 L680.18,427.35 L681.31,425.94 L680.18,421.71 L678.29,418.41 L675.47,416.06 L672.18,414.18 L667,412.76 L663.24,411.82 L660.41,409.47 L657.59,408.06 L656.18,409.94 L653.82,410.6 L652.41,409 L651.94,407.12 L648.65,404.76 L651,403.64 L655.24,402.88 L657.59,402.41 L657.4,401 L652.88,401.47 L649.12,400.53 L646.76,398.18 L643.94,397.24Z M660.35,417.94 L662.12,417.59 L662.12,420.59 L660,424.47 L658.59,422.35Z M573.65,435.52 L575.06,433.07 L578.35,432.41 L579.76,431.19 L581.65,432.13 L584.66,432.13 L585.22,433.64 L581.65,434.58 L577.41,435.24Z M589.18,432.41 L592.94,431.75 L596.24,432.69 L600.47,431.94 L603.76,430.81 L603.48,432.88 L600.47,434.29 L595.76,434.95 L591.06,434.58 L589.36,434.29Z M585,437.71 L589.41,437.71 L592.94,439.65 L592.59,441.76 L588.53,440.35Z M606.59,441.82 L608,438.06 L611.29,435.71 L614.12,435.05 L614.78,437.12 L612.71,439.66 L609.41,441.54Z"/>
</g>
<!-- header -->
<text class="serif" x="16.4" y="40" font-size="27" font-weight="700" fill="#2f2f2f" textLength="59.2" lengthAdjust="spacingAndGlyphs">Javan</text>
<text class="serif" x="84" y="40" font-size="27" font-weight="700" fill="#2f2f2f" textLength="59.6" lengthAdjust="spacingAndGlyphs">rhino</text>
<text class="serif" x="151.6" y="40" font-size="27" font-weight="700" fill="#2f2f2f" textLength="130.4" lengthAdjust="spacingAndGlyphs">population,</text>
<text class="serif" x="290" y="40" font-size="19" font-weight="700" fill="#2f2f2f" textLength="49" lengthAdjust="spacingAndGlyphs">2021</text>
<text class="sans" x="16.5" y="66.2" font-size="14" fill="#5b5b5b" textLength="225" lengthAdjust="spacingAndGlyphs">Estimated number of Javan rhinos.</text>
<!-- logo -->
<g>
<rect x="769" y="16" width="65" height="36" fill="#002147"/>
<rect x="769" y="49.2" width="65" height="2.8" fill="#ce261e"/>
<text class="sans" x="773.9" y="30.6" font-size="11.6" font-weight="700" fill="#fff" textLength="55" lengthAdjust="spacingAndGlyphs">Our World</text>
<text class="sans" x="783.3" y="42.6" font-size="11.6" font-weight="700" fill="#fff" textLength="36.3" lengthAdjust="spacingAndGlyphs">in Data</text>
</g>
<!-- legend -->
<g>
<rect x="186.5" y="501.3" width="47" height="11.3" fill="url(#hatch)" stroke="#bdbdbd" stroke-width=".8"/>
<line x1="210" y1="498.8" x2="210" y2="501.3" stroke="#bdbdbd" stroke-width=".8"/>
<text class="sans lg" x="210" y="494.6" text-anchor="middle">No data</text>
<rect x="253.7" y="501.3" width="58.5" height="11.3" fill="#c8232b"/>
<rect x="312.2" y="501.3" width="58.4" height="11.3" fill="#d0d1e6"/>
<rect x="370.7" y="501.3" width="58.5" height="11.3" fill="#a6bddb"/>
<rect x="429.2" y="501.3" width="58.5" height="11.3" fill="#74a9cf"/>
<rect x="487.8" y="501.3" width="58.5" height="11.3" fill="#3690c0"/>
<rect x="546.3" y="501.3" width="58.5" height="11.3" fill="#0570b0"/>
<path d="M604.7,501.3H658.5L663.7,506.95L658.5,512.6H604.7Z" fill="#034e7b"/>
<path d="M253.7,501.3H658.5L663.7,506.95L658.5,512.6H253.7Z" fill="none" stroke="#8a8a8a" stroke-width=".5"/>
<g stroke="#c8c8c8" stroke-width=".8">
<line x1="283.1" y1="484" x2="283.1" y2="501.3"/>
<line x1="312.2" y1="498.8" x2="312.2" y2="512.6"/>
<line x1="370.7" y1="484" x2="370.7" y2="512.6"/>
<line x1="429.2" y1="498.8" x2="429.2" y2="512.6"/>
<line x1="487.8" y1="484" x2="487.8" y2="512.6"/>
<line x1="546.3" y1="498.8" x2="546.3" y2="512.6"/>
<line x1="604.7" y1="484" x2="604.7" y2="512.6"/>
</g>
<text class="sans lg" x="283.1" y="479.8" text-anchor="middle">Extinct</text>
<text class="sans lg" x="312.2" y="494.6" text-anchor="middle">&lt;1</text>
<text class="sans lg" x="370.7" y="479.8" text-anchor="middle">10</text>
<text class="sans lg" x="429.2" y="494.6" text-anchor="middle">20</text>
<text class="sans lg" x="487.8" y="479.8" text-anchor="middle">30</text>
<text class="sans lg" x="546.3" y="494.6" text-anchor="middle">40</text>
<text class="sans lg" x="604.7" y="479.8" text-anchor="middle">50</text>
</g>
<!-- footer -->
<text class="sans ft" x="16.5" y="545.5" textLength="359.5" lengthAdjust="spacingAndGlyphs"><tspan font-weight="700">Data source:</tspan> African and Asian Rhino Specialist Groups (AfRSG)</text>
<text class="sans ft" x="16.5" y="565.5" textLength="773.5" lengthAdjust="spacingAndGlyphs"><tspan font-weight="700">Note:</tspan> Estimates of wild mammal populations are reported with uncertainty. Data is correct in overall population trends, however specific</text>
<text class="sans ft" x="16.5" y="581.2" textLength="396.5" lengthAdjust="spacingAndGlyphs">annual figures should be treated as the best estimate of a given range.</text>
<text class="sans ft" x="596.5" y="545.5" textLength="235" lengthAdjust="spacingAndGlyphs">OurWorldinData.org/biodiversity | CC BY</text>
</svg>
</body>
</html>
